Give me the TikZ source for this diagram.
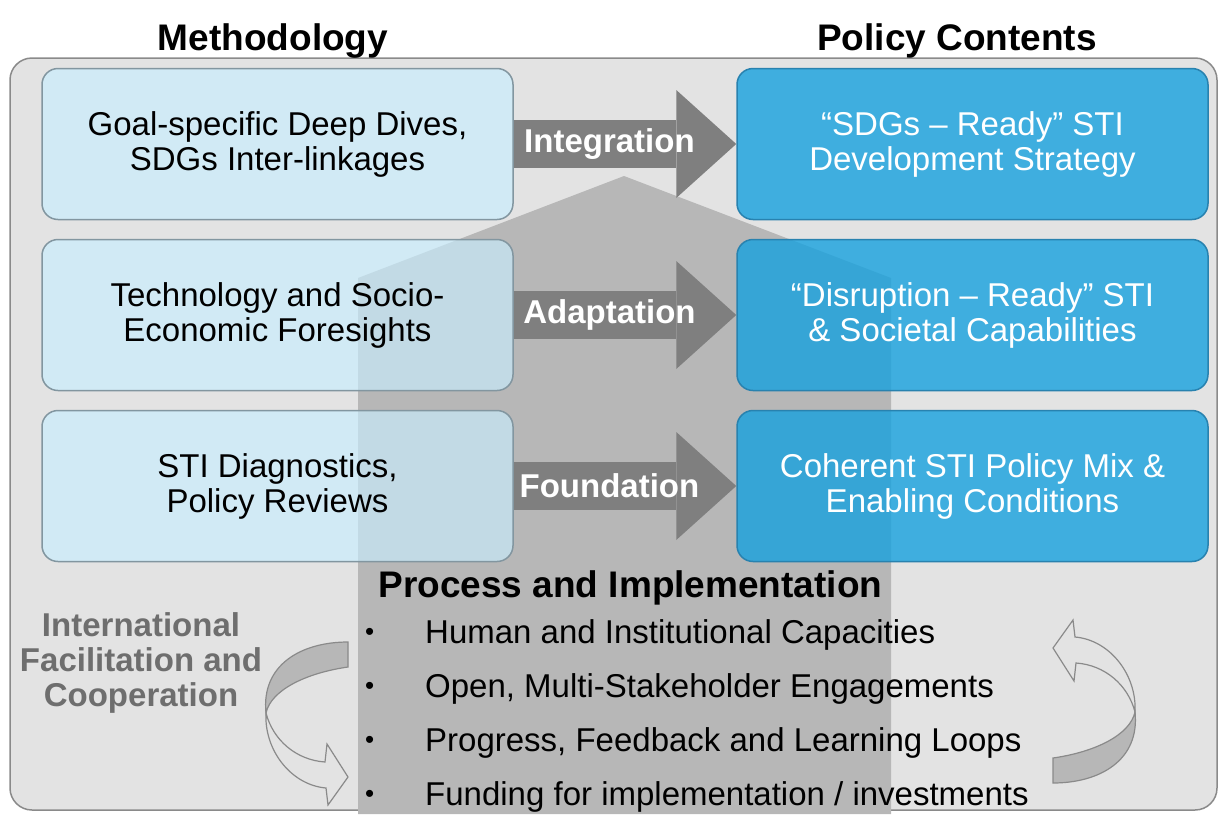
\documentclass[tikz,border=0pt]{standalone}
\usepackage{fontspec}
\setmainfont{Liberation Sans}
\usetikzlibrary{arrows.meta}

\definecolor{panelgray}{RGB}{227,227,227}
\definecolor{framegray}{RGB}{138,138,138}
\definecolor{housegray}{RGB}{183,183,183}
\definecolor{methodblue}{RGB}{200,238,255}
\definecolor{methodedge}{RGB}{130,150,160}
\definecolor{policyblue}{RGB}{22,161,222}
\definecolor{policyedge}{RGB}{40,130,175}
\definecolor{flowgray}{RGB}{127,127,127}
\definecolor{coopgray}{RGB}{110,110,110}

\newcommand{\itemdot}{\makebox[60pt][l]{\raisebox{3pt}{\fontsize{26}{26}\selectfont\textbullet}}}

\begin{document}
\begin{tikzpicture}[x=1pt, y=-1pt, node distance=171pt, >=Latex]

	% Styles
	\tikzstyle{methodbox} = [rectangle, draw=methodedge, line width=1.5pt, fill=methodblue, fill opacity=0.65, text opacity=1, rounded corners=16pt, minimum width=471pt, minimum height=151pt, align=center, font=\fontsize{33}{35}\selectfont]
	\tikzstyle{policybox} = [methodbox, draw=policyedge, fill=policyblue, fill opacity=0.8, text=white]
	\tikzstyle{flow} = [-{Triangle[length=60pt, width=108pt, line width=0pt]}, line width=48pt, draw=flowgray]
	\tikzstyle{flowlabel} = [text=white, font=\bfseries\fontsize{33}{35}\selectfont]
	\tikzstyle{title} = [font=\bfseries\fontsize{37}{40}\selectfont]
	\tikzstyle{loopback} = [draw=framegray, line width=1.2pt, fill=housegray]
	\tikzstyle{loopfront} = [draw=framegray, line width=1.2pt, fill=panelgray]

	\useasboundingbox (0,0) rectangle (1225,814);

	% Panel and the house behind the boxes
	\draw[framegray, fill=panelgray, line width=1.5pt, rounded corners=22pt] (10,58) rectangle (1217,810);
	\fill[housegray] (358,814) -- (358,278) -- (624,176) -- (891,278) -- (891,814) -- cycle;

	% Titles
	\node[title, anchor=base] (methodtitle) at (273,50) {Methodology};
	\node[title, anchor=base] (policytitle) at (957,50) {Policy Contents};

	% Nodes
	\node[methodbox] (goal) at (277.5,144) {Goal-specific Deep Dives,\\SDGs Inter-linkages};
	\node[methodbox, below of=goal] (tech) {Technology and Socio-\\Economic Foresights};
	\node[methodbox, below of=tech] (diag) {STI Diagnostics,\\Policy Reviews};
	\node[policybox, right of=goal, node distance=695pt] (sdg) {“SDGs – Ready” STI\\Development Strategy};
	\node[policybox, below of=sdg] (disr) {“Disruption – Ready” STI\\\& Societal Capabilities};
	\node[policybox, below of=disr] (coher) {Coherent STI Policy Mix \&\\Enabling Conditions};

	% Arrows (main flow)
	\draw[flow] (goal) -- (sdg) node[flowlabel, pos=0.43] (integ) {Integration};
	\draw[flow] (tech) -- (disr) node[flowlabel, pos=0.43] (adapt) {Adaptation};
	\draw[flow] (diag) -- (coher) node[flowlabel, pos=0.43] (found) {Foundation};

	% Process and implementation
	\node[title, anchor=base west] (process) at (375,597) {Process and Implementation};
	\node[anchor=north west, inner sep=0pt, align=left, font=\fontsize{33}{54}\selectfont] (items) at (365,619) {%
		\itemdot Human and Institutional Capacities\\
		\itemdot Open, Multi-Stakeholder Engagements\\
		\itemdot Progress, Feedback and Learning Loops\\
		\itemdot Funding for implementation / investments};
	\node[align=center, text=coopgray, font=\bfseries\fontsize{33}{35}\selectfont] (intl) at (141,663) {International\\Facilitation and\\Cooperation};

	% Cooperation loops
	\foreach \turn in {0,180}{
		\begin{scope}[rotate around={\turn:(700.5,712.5)}]
			\draw[loopback] (1053,758) .. controls (1095,752) and (1130,735) .. (1135,712)
				.. controls (1140,760) and (1100,783) .. (1053,783) -- cycle;
			\draw[loopfront] (1135,712) .. controls (1137,675) and (1110,640) .. (1075,637)
				-- (1073,620) -- (1053,648) -- (1074,681) -- (1076,663)
				.. controls (1105,665) and (1128,685) .. (1135,712) -- cycle;
		\end{scope}
	}

\end{tikzpicture}
\end{document}
